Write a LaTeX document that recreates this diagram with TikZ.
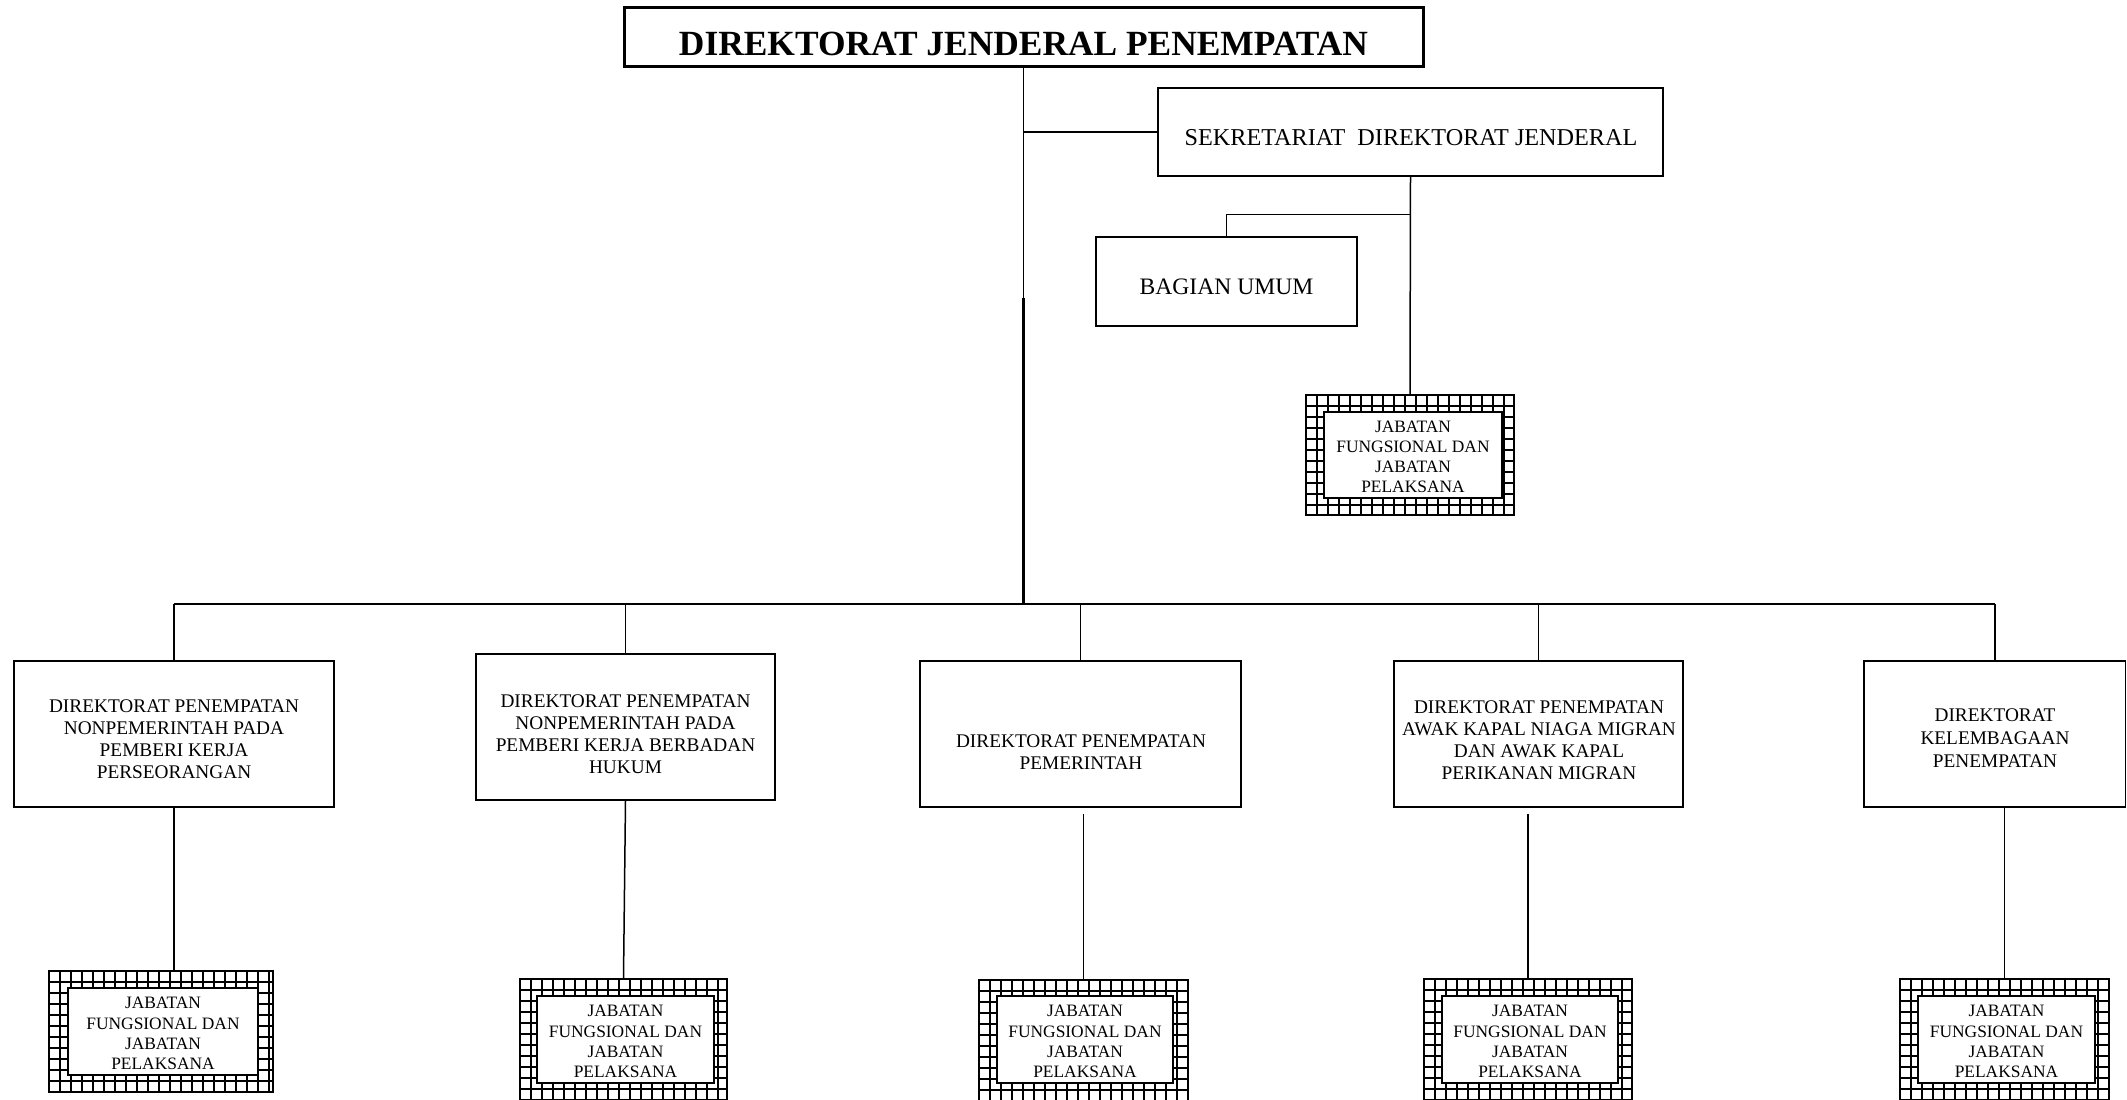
\documentclass[tikz,border=0pt]{standalone}
\usepackage{fontspec}
\setmainfont{Liberation Serif}
\usetikzlibrary{fit,calc}

\tikzset{
  unitbox/.style={draw, line width=0.7pt, inner sep=0pt},
  headbox/.style={draw, line width=1.5pt, inner sep=0pt},
  conn/.style={line width=0.75pt},
  connbold/.style={line width=1.05pt},
  gridline/.style={line width=0.65pt},
  jfframe/.style={draw, line width=1.2pt, inner sep=0pt},
  jfinner/.style={draw, fill=white, line width=0.85pt, inner sep=0pt},
  titletext/.style={font=\bfseries\fontsize{17.7}{20}\selectfont, inner sep=0pt},
  secttext/.style={font=\fontsize{11.8}{14}\selectfont, inner sep=0pt},
  dirtext/.style={align=center, font=\fontsize{9.65}{10.95}\selectfont, inner sep=0pt},
  jftext/.style={align=center, font=\fontsize{8.7}{10.1}\selectfont, inner sep=0pt},
}

% functional-staff unit: hatched frame (outer corners #2..#5) around a white panel (#6..#9)
\newcommand\jfunit[9]{%
  \begin{scope}
    \clip (#2,#3) rectangle (#4,#5);
    \foreach \g in {0,11,...,242} {
      \draw[gridline] ({#2+\g},#3) -- ({#2+\g},#5);
      \draw[gridline] (#2,{#3+\g}) -- (#4,{#3+\g});
    }
  \end{scope}
  \node[jfframe, fit={(#2,#3) (#4,#5)}] (#1) {};
  \node[jfinner, fit={(#6,#7) (#8,#9)}] (#1in) {};
  \node[jftext] (#1txt) at ($(#1in.center)+(0,2)$) {JABATAN\\FUNGSIONAL DAN\\JABATAN\\PELAKSANA};
}

\begin{document}
\begin{tikzpicture}[x=0.5pt, y=-0.5pt]
  \useasboundingbox (0,0) rectangle (2127,1099);
  \clip (0,0) rectangle (2127,1099);

  % head of the organisation
  \node[headbox, fit={(624,7) (1423,66)}] (dirjen) {};
  \node[titletext] (dirjentxt) at (1023.5,44) {DIREKTORAT JENDERAL PENEMPATAN};

  % secretariat branch
  \node[unitbox, fit={(1158,88) (1663,176)}] (sek) {};
  \node[secttext, font=\fontsize{12.1}{14}\selectfont] (sektxt) at (1411,138) {SEKRETARIAT\ \ DIREKTORAT JENDERAL};

  \node[unitbox, fit={(1096,237) (1357,326)}] (umum) {};
  \node[secttext] (umumtxt) at (1226.5,287) {BAGIAN UMUM};

  \jfunit{jf0}{1306}{395}{1514}{515}{1324}{412}{1502}{498}

  % directorates
  \node[unitbox, fit={(14,661) (334,807)}] (d1) {};
  \node[dirtext] (d1txt) at (174,739) {DIREKTORAT PENEMPATAN\\NONPEMERINTAH PADA\\PEMBERI KERJA\\PERSEORANGAN};

  \node[unitbox, fit={(476,654) (775,800)}] (d2) {};
  \node[dirtext] (d2txt) at (625.5,734) {DIREKTORAT PENEMPATAN\\NONPEMERINTAH PADA\\PEMBERI KERJA BERBADAN\\HUKUM};

  \node[unitbox, fit={(920,661) (1241,807)}] (d3) {};
  \node[dirtext] (d3txt) at (1081,752) {DIREKTORAT PENEMPATAN\\PEMERINTAH};

  \node[unitbox, fit={(1394,661) (1683,807)}] (d4) {};
  \node[dirtext] (d4txt) at (1539,740) {DIREKTORAT PENEMPATAN\\AWAK KAPAL NIAGA MIGRAN\\DAN AWAK KAPAL\\PERIKANAN MIGRAN};

  \node[unitbox, fit={(1864,661) (2125.5,807)}] (d5) {};
  \node[dirtext, font=\fontsize{9.65}{11.6}\selectfont] (d5txt) at (1995,738) {DIREKTORAT\\KELEMBAGAAN\\PENEMPATAN};

  % functional staff under each directorate
  \jfunit{jf1}{49}{971}{273}{1092}{68}{988}{258}{1075}
  \jfunit{jf2}{520}{979}{727}{1103}{537}{996}{714}{1083}
  \jfunit{jf3}{979}{980}{1188}{1103}{997}{996}{1173}{1083}
  \jfunit{jf4}{1424}{979}{1632}{1103}{1442}{996}{1618}{1083}
  \jfunit{jf5}{1900}{979}{2109}{1103}{1918}{996}{2095}{1083}

  % connectors
  \coordinate (hub) at (1023.5,604);
  \coordinate (trunkmid) at (1023.5,298);
  \coordinate (sekjoint) at ($(sek.south)+(0,38)$);

  \draw[conn] (dirjen.south) -- (trunkmid);
  \draw[connbold] (trunkmid) -- (hub);
  \draw[conn] (dirjen.south |- sek.west) -- (sek.west);
  \draw[conn] (sek.south) -- (jf0.north);
  \draw[conn] (sekjoint) -| (umum.north);

  \draw[connbold] (d1.north |- hub) -- (hub);
  \draw[conn] (hub) -- (d5.north |- hub);
  \foreach \d in {d1,d2,d3,d4,d5}
    \draw[conn] (\d.north |- hub) -- (\d.north);

  \draw[conn] (d1.south) -- (d1.south |- jf1.north);
  \draw[conn] (d2.south) -- (jf2.north);
  \draw[conn] ($(jf3.north |- d3.south)+(0,6)$) -- (jf3.north);
  \draw[conn] ($(jf4.north |- d4.south)+(0,6)$) -- (jf4.north);
  \draw[conn] (jf5.north |- d5.south) -- (jf5.north);
\end{tikzpicture}
\end{document}
